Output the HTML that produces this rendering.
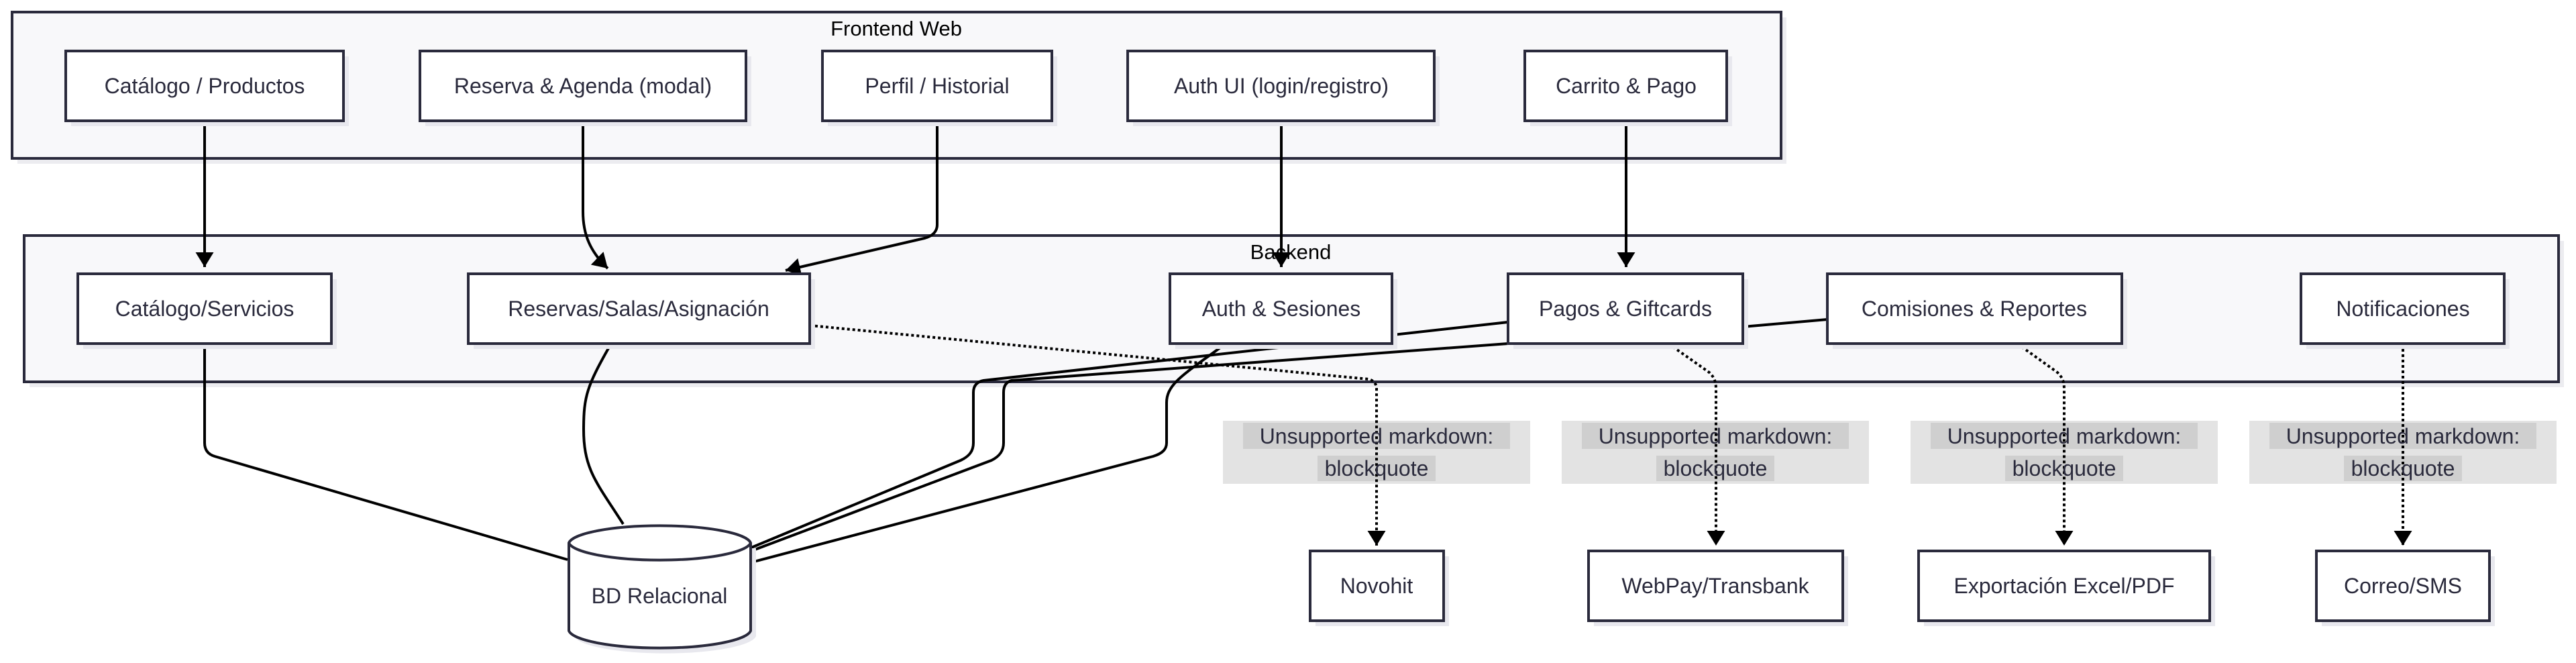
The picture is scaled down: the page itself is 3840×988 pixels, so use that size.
<!DOCTYPE html>
<html><head><meta charset="utf-8"><style>
html,body{margin:0;padding:0;background:#fff;width:3840px;height:988px;overflow:hidden}
text{font-family:"Liberation Sans",sans-serif;fill:#2a2a3c}
</style></head><body>
<svg width="3840" height="988" viewBox="0 0 3840 988" xmlns="http://www.w3.org/2000/svg">
<defs>
<marker id="ah" viewBox="0 0 22 27" refX="22" refY="13.5" markerWidth="22" markerHeight="27" markerUnits="userSpaceOnUse" orient="auto"><path d="M0,0L22,13.5L0,27z" fill="#000"/></marker>
</defs>
<!-- clusters -->
<rect x="26" y="26" width="2637" height="218" fill="#ececf0"/>
<rect x="18" y="18" width="2637" height="218" fill="#f8f8fa" stroke="#2a2a3c" stroke-width="4"/>
<rect x="44" y="359" width="3778" height="218" fill="#ececf0"/>
<rect x="36" y="351" width="3778" height="218" fill="#f8f8fa" stroke="#2a2a3c" stroke-width="4"/>
<text x="1336" y="53" font-size="31" text-anchor="middle" style="fill:#000">Frontend Web</text>
<text x="1924" y="386" font-size="31" text-anchor="middle" style="fill:#000">Backend</text>

<!-- labels boxes -->
<g font-size="32" text-anchor="middle">
<rect x="1823" y="627" width="458" height="94" fill="#e3e3e3"/>
<rect x="2328" y="627" width="458" height="94" fill="#e3e3e3"/>
<rect x="2848" y="627" width="458" height="94" fill="#e3e3e3"/>
<rect x="3353" y="627" width="458" height="94" fill="#e3e3e3"/>
<g fill="#cfcfcf">
<rect x="1853" y="630" width="398" height="39"/><rect x="1964" y="679" width="176" height="38"/>
<rect x="2358" y="630" width="398" height="39"/><rect x="2469" y="679" width="176" height="38"/>
<rect x="2878" y="630" width="398" height="39"/><rect x="2989" y="679" width="176" height="38"/>
<rect x="3383" y="630" width="398" height="39"/><rect x="3494" y="679" width="176" height="38"/>
</g>
</g>

<!-- edges -->
<g fill="none" stroke="#000" stroke-width="4">
<path d="M305,180 L305,398" marker-end="url(#ah)"/>
<path d="M869,180 L869,315 C869,350 880,375 906,400" marker-end="url(#ah)"/>
<path d="M1397,180 L1397,335 C1397,345 1390,352 1378,355 L1171,403" marker-end="url(#ah)"/>
<path d="M1910,180 L1910,398" marker-end="url(#ah)"/>
<path d="M2424,180 L2424,398" marker-end="url(#ah)"/>
<path d="M305,512 L305,660 C305,670 310,677 320,680 L846,834"/>
<path d="M911,512 C875,575 870,590 870,640 C870,700 890,720 929,781"/>
<path d="M1827,512 C1770,555 1739,570 1739,600 L1739,660 C1739,670 1732,676 1719,680 L1120,838"/>
<path d="M2724,476 L2598,487"/>
<path d="M2248,480 L1466,567 C1456,569 1451,575 1451,585 L1451,660 C1451,672 1445,680 1432,686 L1120,816"/>
<path d="M2248,512 L1508,567 C1500,569 1496,575 1496,585 L1496,660 C1496,672 1490,680 1478,686 L1120,821"/>
</g>
<g fill="none" stroke="#000" stroke-width="4" stroke-dasharray="4,4">
<path d="M1207,485 L2040,565 C2048,567 2052,572 2052,580 L2052,813" marker-end="url(#ah)"/>
<path d="M2487,512 L2548,555 C2555,562 2558,568 2558,580 L2558,813" marker-end="url(#ah)"/>
<path d="M3007,512 L3067,555 C3074,562 3077,568 3077,580 L3077,813" marker-end="url(#ah)"/>
<path d="M3582,512 L3582,813" marker-end="url(#ah)"/>
</g>

<!-- label text on top of lines -->
<g font-size="32" text-anchor="middle" style="fill:#333">
<text x="2052" y="661">Unsupported markdown:</text><text x="2052" y="709">blockquote</text>
<text x="2557" y="661">Unsupported markdown:</text><text x="2557" y="709">blockquote</text>
<text x="3077" y="661">Unsupported markdown:</text><text x="3077" y="709">blockquote</text>
<text x="3582" y="661">Unsupported markdown:</text><text x="3582" y="709">blockquote</text>
</g>

<!-- nodes -->
<g fill="#e8e8ee">
<rect x="106" y="84" width="414" height="104"/><rect x="634" y="84" width="486" height="104"/>
<rect x="1234" y="84" width="342" height="104"/><rect x="1689" y="84" width="457" height="104"/>
<rect x="2281" y="84" width="301" height="104"/>
<rect x="124" y="416" width="378" height="104"/><rect x="706" y="416" width="509" height="104"/>
<rect x="1752" y="416" width="331" height="104"/><rect x="2256" y="416" width="350" height="104"/>
<rect x="2732" y="416" width="439" height="104"/><rect x="3438" y="416" width="303" height="104"/>
<rect x="1961" y="829" width="199" height="104"/><rect x="2376" y="829" width="379" height="104"/>
<rect x="2868" y="829" width="434" height="104"/><rect x="3461" y="829" width="258" height="104"/>
</g>
<g fill="#fff" stroke="#2a2a3c" stroke-width="4">
<rect x="98" y="76" width="414" height="104"/><rect x="626" y="76" width="486" height="104"/>
<rect x="1226" y="76" width="342" height="104"/><rect x="1681" y="76" width="457" height="104"/>
<rect x="2273" y="76" width="301" height="104"/>
<rect x="116" y="408" width="378" height="104"/><rect x="698" y="408" width="509" height="104"/>
<rect x="1744" y="408" width="331" height="104"/><rect x="2248" y="408" width="350" height="104"/>
<rect x="2724" y="408" width="439" height="104"/><rect x="3430" y="408" width="303" height="104"/>
<rect x="1953" y="821" width="199" height="104"/><rect x="2368" y="821" width="379" height="104"/>
<rect x="2860" y="821" width="434" height="104"/><rect x="3453" y="821" width="258" height="104"/>
</g>
<!-- DB cylinder -->
<path d="M856,817 L856,948 A136,28 0 0 0 1127,948 L1127,817" fill="#e8e8ee"/>
<path d="M848,809 A136,28 0 0 1 1119,809 L1119,940 A136,28 0 0 1 848,940 Z" fill="#fff" stroke="#2a2a3c" stroke-width="4"/>
<path d="M848,809 A136,28 0 0 0 1119,809" fill="none" stroke="#2a2a3c" stroke-width="4"/>

<g font-size="32" text-anchor="middle">
<text x="305" y="139">Catálogo / Productos</text>
<text x="869" y="139">Reserva &amp; Agenda (modal)</text>
<text x="1397" y="139">Perfil / Historial</text>
<text x="1910" y="139">Auth UI (login/registro)</text>
<text x="2424" y="139">Carrito &amp; Pago</text>
<text x="305" y="471">Catálogo/Servicios</text>
<text x="952" y="471">Reservas/Salas/Asignación</text>
<text x="1910" y="471">Auth &amp; Sesiones</text>
<text x="2423" y="471">Pagos &amp; Giftcards</text>
<text x="2943" y="471">Comisiones &amp; Reportes</text>
<text x="3582" y="471">Notificaciones</text>
<text x="2052" y="884">Novohit</text>
<text x="2557" y="884">WebPay/Transbank</text>
<text x="3077" y="884">Exportación Excel/PDF</text>
<text x="3582" y="884">Correo/SMS</text>
<text x="983" y="899">BD Relacional</text>
</g>
</svg>
</body></html>
